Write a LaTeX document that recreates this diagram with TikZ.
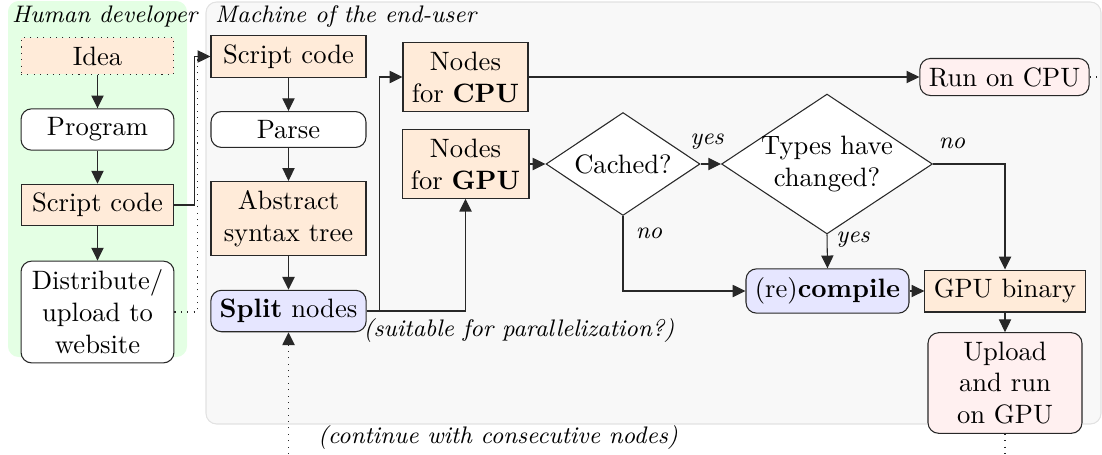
\documentclass[tikz,border=0pt]{standalone}
\usetikzlibrary{arrows.meta,shapes.geometric}
\definecolor{orfill}{RGB}{255,235,217}
\definecolor{lavfill}{RGB}{230,230,255}
\definecolor{pinkfill}{RGB}{255,240,240}
\definecolor{greenbg}{RGB}{228,255,228}
\definecolor{graybg}{RGB}{248,248,248}
\definecolor{grayline}{RGB}{226,226,226}
\definecolor{linecol}{RGB}{40,40,40}
\begin{document}
\begin{tikzpicture}[x=0.376pt,y=-0.376pt,
  >={Triangle[length=4.8pt,width=4.6pt]},
  base/.style={draw=linecol, align=center, inner sep=3.333pt},
  obox/.style={base, fill=orfill},
  wbox/.style={base, rounded corners=4pt, fill=white},
  lbox/.style={base, rounded corners=4pt, fill=lavfill},
  pbox/.style={base, rounded corners=4pt, fill=pinkfill},
  lcol/.style={minimum width=57.5pt},
  mcol/.style={minimum width=58.3pt},
  dia/.style={draw=linecol, diamond, fill=white, inner sep=0pt},
  lab/.style={font=\small\itshape, inner sep=1pt},
  arr/.style={->, draw=linecol},
  dots/.style={dotted, draw=linecol}
]
\useasboundingbox (0,0) rectangle (1102,454);
% backgrounds
\fill[greenbg, rounded corners=4pt] (8,1) rectangle (187,357);
\filldraw[fill=graybg, draw=grayline, rounded corners=4pt] (206,2) rectangle (1101,424);
\node[lab, anchor=west] (hd) at (9,17) {Human developer};
\node[lab, anchor=west] (me) at (212,17) {Machine of the end-user};

% left column
\node[obox, lcol, dotted] (idea) at (97.5,56) {Idea};
\node[wbox, lcol] (prog) at (97.5,129.5) {Program};
\node[obox, lcol] (sL) at (97.5,205) {Script code};
\node[wbox, lcol] (dist) at (97.5,312) {Distribute/\\upload to\\website};

% middle column
\node[obox, mcol] (sR) at (288.5,56.5) {Script code};
\node[wbox, mcol, text depth=0pt] (parse) at (288.5,129.5) {Parse};
\node[obox, mcol] (ast) at (288.5,218.5) {Abstract\\syntax tree};
\node[lbox, mcol] (split) at (288.5,311) {\textbf{Split} nodes};

\node[obox] (cpu) at (465.5,77) {Nodes\\for \textbf{CPU}};
\node[obox] (gpu) at (465.5,164) {Nodes\\for \textbf{GPU}};

\node[dia, minimum width=57.9pt, minimum height=38.7pt, label=center:{Cached?}] (cached) at (623,164) {};
\node[dia, minimum width=79.3pt, minimum height=52.6pt, label={[align=center]center:Types have\\changed?}] (types) at (827,164) {};

\node[pbox] (run) at (1004.5,77) {Run on CPU};
\node[lbox] (comp) at (827.5,291) {(re)\textbf{compile}};
\node[obox] (bin) at (1005,291) {GPU binary};
\node[pbox, minimum width=57.9pt] (up) at (1005,383) {Upload\\and run\\on GPU};

% free ends
\coordinate (runend) at (1102,77);
\coordinate (upend) at (1005,454);
\coordinate (splitin) at (288.5,454);

% connectors
\draw[arr] (idea) -- (prog);
\draw[arr] (prog) -- (sL);
\draw[arr] (sL) -- (dist);
\draw[dots] (dist.east) -- ++(23,0) |- (sR.west);
\draw[arr] (sL.east) -- ++(20,0) |- (sR.west);
\draw[arr] (sR) -- (parse);
\draw[arr] (parse) -- (ast);
\draw[arr] (ast) -- (split);
\draw[arr] (split.east) -- ++(13,0) |- (cpu.west);
\draw[arr] (split.east) -| (gpu.south);
\draw[arr, dots] (splitin) -- (split.south);
\draw[arr] (cpu.east) -- (run.west);
\draw[dots] (run.east) -- (runend);
\draw[arr] (gpu.east) -- (cached.west);
\draw[arr] (cached.east) -- (types.west);
\draw[arr] (cached.south) |- (comp.west);
\draw[arr] (types.south) -- (comp.north);
\draw[arr] (types.east) -| (bin.north);
\draw[arr] (comp.east) -- (bin.west);
\draw[arr] (bin.south) -- (up.north);
\draw[dots] (up.south) -- (upend);

% labels
\node[lab] (l1) at (707,142) {yes};
\node[lab] (l2) at (952,143) {no};
\node[lab] (l3) at (649,233) {no};
\node[lab] (l4) at (853,240) {yes};
\node[lab] (l5) at (519,330) {(suitable for parallelization?)};
\node[lab] (l6) at (498,437) {(continue with consecutive nodes)};
\end{tikzpicture}
\end{document}
